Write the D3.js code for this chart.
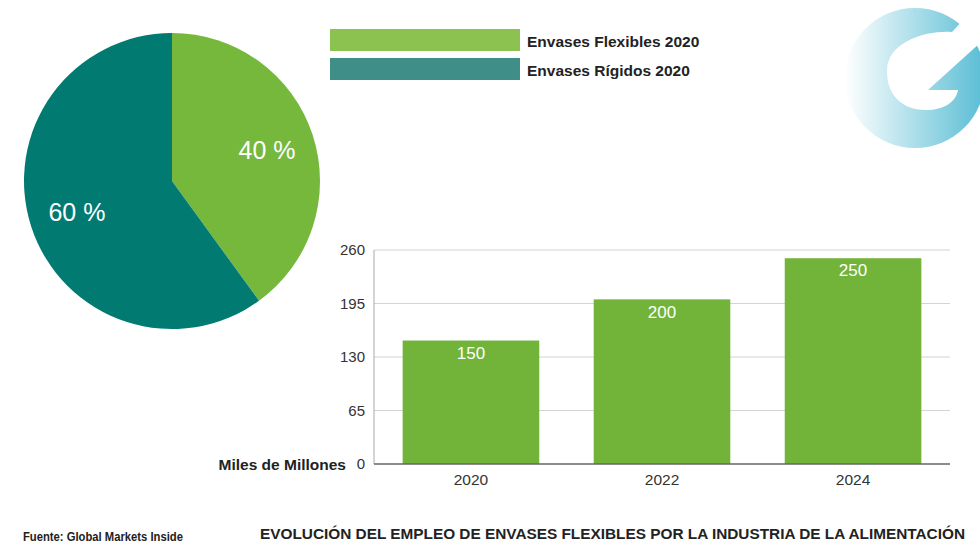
<!DOCTYPE html>
<html>
<head>
<meta charset="utf-8">
<script src="https://cdn.jsdelivr.net/npm/d3@7/dist/d3.min.js"></script>
<style>
  html, body { margin: 0; padding: 0; background: #fff; }
  svg { display: block; }
  text { font-family: "Liberation Sans", Arial, sans-serif; }
</style>
</head>
<body>
<svg id="chart" width="980" height="560"></svg>
<script>
// ---- data ----
const pieLabels = ["Envases Flexibles 2020", "Envases Rígidos 2020"];
const pieValues = [40, 60];
const pieTexts = ["40 %", "60 %"];
const barYears = ["2020", "2022", "2024"];
const barValues = [150, 200, 250];
const yTicks = [0, 65, 130, 195, 260];
const yAxisTitle = "Miles de Millones";
const chartTitle = "EVOLUCIÓN DEL EMPLEO DE ENVASES FLEXIBLES POR LA INDUSTRIA DE LA ALIMENTACIÓN";
const sourceText = "Fuente: Global Markets Inside";

const pieColors = ["#76b83c", "#017a72"];
const legendColors = ["#8bc250", "#3f8e87"];
const barColor = "#72b33a";

const svg = d3.select("#chart");

// ---- logo (decorative) ----
const defs = svg.append("defs");
const grad = defs.append("linearGradient").attr("id", "lg").attr("x1", "0%").attr("x2", "100%").attr("y1", "0%").attr("y2", "0%");
grad.append("stop").attr("offset", "0%").attr("stop-color", "#ffffff");
grad.append("stop").attr("offset", "100%").attr("stop-color", "#58bdd4");
const logo = svg.append("g");
logo.append("circle").attr("cx", 915).attr("cy", 78).attr("r", 70).attr("fill", "url(#lg)");
logo.append("path")
  .attr("d", "M980,0 L976,6 L952,32 C930,30 887,40 887,71 C887,98 905,110 926,110 C944,110 956,102 958,90 L928,90 L980,43 Z")
  .attr("fill", "#fff");

// ---- pie ----
const cx = 172, cy = 181, R = 148;
const pie = d3.pie().sort(null).value(d => d)(pieValues);
const arc = d3.arc().innerRadius(0).outerRadius(R);
const labelArc = d3.arc().innerRadius(100).outerRadius(100);
const pg = svg.append("g").attr("transform", `translate(${cx},${cy})`);
pg.selectAll("path").data(pie).join("path")
  .attr("d", arc).attr("fill", (d, i) => pieColors[i]);
pg.selectAll("text").data(pie).join("text")
  .attr("transform", d => `translate(${labelArc.centroid(d)})`)
  .attr("text-anchor", "middle").attr("dy", "0.36em")
  .attr("fill", "#fff").attr("font-size", 25)
  .text((d, i) => pieTexts[i]);

// ---- legend ----
const lg = svg.append("g");
pieLabels.forEach((lab, i) => {
  lg.append("rect").attr("x", 330).attr("y", 29 + i * 29).attr("width", 190).attr("height", 22)
    .attr("fill", legendColors[i]);
  lg.append("text").attr("x", 527).attr("y", 41 + i * 29).attr("dy", "0.36em")
    .attr("font-size", 15.5).attr("font-weight", "bold").attr("fill", "#222").text(lab);
});

// ---- bars ----
const x = d3.scaleBand().domain(barYears).range([374, 950]).paddingInner(0.285).paddingOuter(0.15);
const y = d3.scaleLinear().domain([0, 260]).range([464, 250]);

const grid = svg.append("g");
grid.selectAll("line").data(yTicks.filter(t => t > 0)).join("line")
  .attr("x1", 374).attr("x2", 950).attr("y1", d => y(d)).attr("y2", d => y(d))
  .attr("stroke", "#d4d4d4").attr("stroke-width", 1.2);

svg.append("line").attr("x1", 374).attr("x2", 374).attr("y1", y(260)).attr("y2", y(0))
  .attr("stroke", "#aaa").attr("stroke-width", 1);

svg.selectAll("rect.bar").data(barValues).join("rect").attr("class", "bar")
  .attr("x", (d, i) => x(barYears[i])).attr("width", x.bandwidth())
  .attr("y", d => y(d)).attr("height", d => y(0) - y(d))
  .attr("fill", barColor);

svg.selectAll("text.val").data(barValues).join("text").attr("class", "val")
  .attr("x", (d, i) => x(barYears[i]) + x.bandwidth() / 2)
  .attr("y", d => y(d) + 12).attr("dy", "0.36em")
  .attr("text-anchor", "middle").attr("fill", "#fff").attr("font-size", 17)
  .text(d => d);

svg.append("line").attr("x1", 374).attr("x2", 950).attr("y1", y(0)).attr("y2", y(0))
  .attr("stroke", "#666").attr("stroke-width", 1.3);

const yAxis = d3.axisLeft(y).tickValues(yTicks).tickSize(0).tickPadding(9);
const ya = svg.append("g").attr("transform", "translate(374,0)").call(yAxis);
ya.select(".domain").remove();
ya.selectAll("text").attr("font-size", 15).attr("fill", "#333")
  .attr("font-family", "'Liberation Sans', Arial, sans-serif");

const xAxis = d3.axisBottom(x).tickSize(0).tickPadding(10);
const xa = svg.append("g").attr("transform", `translate(0,${y(0)})`).call(xAxis);
xa.select(".domain").remove();
xa.selectAll("text").attr("font-size", 15.5).attr("fill", "#333")
  .attr("font-family", "'Liberation Sans', Arial, sans-serif");

svg.append("text").attr("x", 346).attr("y", 464).attr("dy", "0.36em").attr("text-anchor", "end")
  .attr("font-size", 15.5).attr("font-weight", "bold").attr("fill", "#222").text(yAxisTitle);

// ---- footer ----
svg.append("text").attr("x", 23).attr("y", 536).attr("dy", "0.36em")
  .attr("font-family", "Lato, 'Noto Sans', sans-serif").attr("font-size", 12.5).attr("font-weight", "bold").attr("fill", "#222")
  .attr("textLength", 160).attr("lengthAdjust", "spacingAndGlyphs").text(sourceText);
svg.append("text").attr("x", 260).attr("y", 534).attr("dy", "0.36em")
  .attr("font-size", 14).attr("font-weight", "bold").attr("fill", "#222")
  .attr("textLength", 705).attr("lengthAdjust", "spacingAndGlyphs").text(chartTitle);
</script>
</body>
</html>
